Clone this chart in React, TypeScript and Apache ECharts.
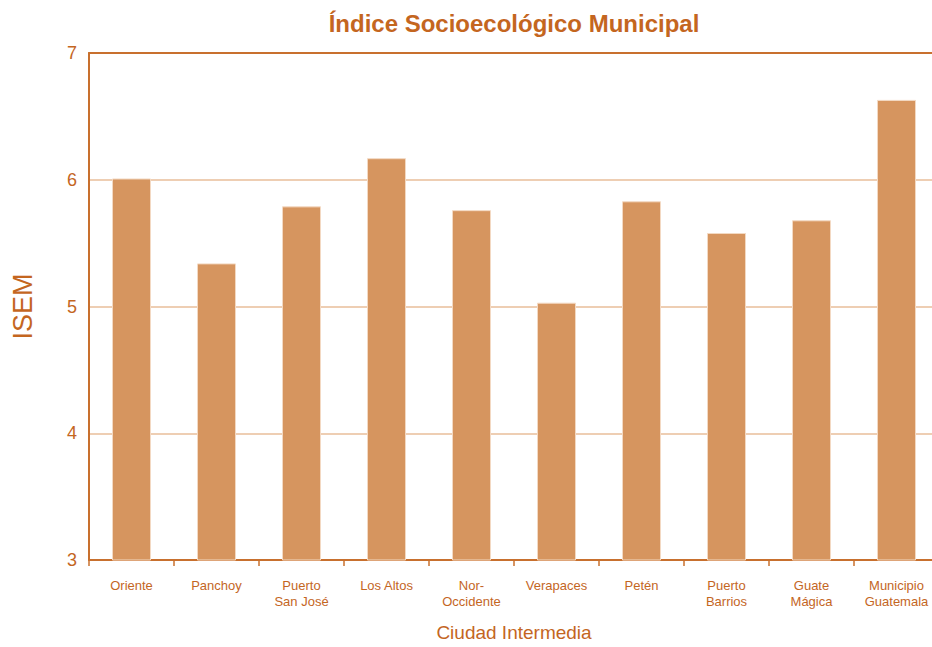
import React, { useEffect, useRef } from "react";
import * as echarts from "echarts";

const categories = [
  "Oriente",
  "Panchoy",
  "Puerto\nSan José",
  "Los Altos",
  "Nor-\nOccidente",
  "Verapaces",
  "Petén",
  "Puerto\nBarrios",
  "Guate\nMágica",
  "Municipio\nGuatemala",
];
const isemValues = [6.01, 5.34, 5.79, 6.17, 5.76, 5.03, 5.83, 5.58, 5.68, 6.63];
const yTicks = { min: 3, max: 7, interval: 1 };

const TEXT = "#C4661F";
const AXIS = "#C8702E";
const FONT = "'Liberation Sans', Arial, sans-serif";

export default function App() {
  const ref = useRef<HTMLDivElement>(null);
  useEffect(() => {
    if (!ref.current) return;
    const chart = echarts.init(ref.current, undefined, { renderer: "svg" });
    chart.setOption({
      animation: false,
      backgroundColor: "#ffffff",
      textStyle: { fontFamily: FONT },
      title: {
        text: "Índice Socioecológico Municipal",
        left: 509,
        textAlign: "center",
        top: 6,
        textStyle: { color: TEXT, fontSize: 24, fontWeight: "bold", fontFamily: FONT },
      },
      grid: { left: 89, right: 0, top: 53, bottom: 80 },
      xAxis: [
        {
          type: "category",
          data: categories,
          name: "Ciudad Intermedia",
          nameLocation: "middle",
          nameGap: 63,
          nameTextStyle: { color: TEXT, fontSize: 19, fontFamily: FONT },
          axisLine: { lineStyle: { color: AXIS, width: 2 } },
          axisTick: { show: true, length: 6, lineStyle: { color: AXIS, width: 1.5 } },
          axisLabel: {
            color: TEXT,
            fontSize: 13,
            lineHeight: 16,
            margin: 17,
            interval: 0,
            fontFamily: FONT,
          },
        },
        {
          type: "category",
          data: categories,
          position: "top",
          axisLine: { lineStyle: { color: AXIS, width: 2 } },
          axisTick: { show: false },
          axisLabel: { show: false },
        },
      ],
      yAxis: {
        type: "value",
        min: yTicks.min,
        max: yTicks.max,
        interval: yTicks.interval,
        name: "ISEM",
        nameLocation: "middle",
        nameGap: 53,
        nameTextStyle: { color: TEXT, fontSize: 27, fontFamily: FONT },
        axisLine: { show: true, lineStyle: { color: AXIS, width: 2 } },
        axisTick: { show: false },
        axisLabel: { color: TEXT, fontSize: 18, margin: 12, fontFamily: FONT },
        splitLine: { show: true, lineStyle: { color: "#E9BE9A", width: 1.5 } },
      },
      series: [
        {
          type: "bar",
          data: isemValues,
          barWidth: 39,
          itemStyle: { color: "#D6955F", borderColor: "#F3D9C3", borderWidth: 1 },
        },
      ],
    });
    return () => chart.dispose();
  }, []);
  return (
    <div
      style={{
        position: "fixed",
        left: 0,
        top: 0,
        width: 932,
        height: 647,
        overflow: "hidden",
        background: "#ffffff",
      }}
    >
      <div ref={ref} style={{ width: 939, height: 647 }} />
    </div>
  );
}
